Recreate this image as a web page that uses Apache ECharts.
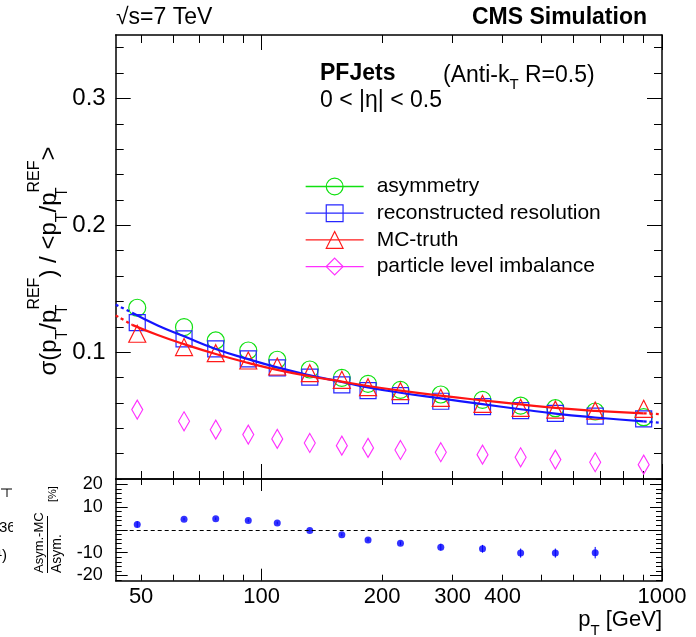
<!DOCTYPE html>
<html><head><meta charset="utf-8">
<script src="https://cdn.jsdelivr.net/npm/echarts@6/dist/echarts.min.js"></script>
<style>html,body{margin:0;padding:0;background:#fff}#c{width:696px;height:637px}</style>
</head><body><div id="c"></div>
<script>
// ---------------- data ----------------
const ptBins = [48.9, 64.0, 76.8, 92.6, 109.4, 131.9, 158.6, 184.4, 222.2, 280.2, 356.2, 443.5, 541.5, 681, 900];
const asymmetry = [0.135, 0.1197, 0.1092, 0.1013, 0.094, 0.0863, 0.0797, 0.075, 0.0703, 0.0666, 0.0624, 0.0579, 0.0558, 0.0532, 0.0487];
const recoResolution = [0.1232, 0.1105, 0.1026, 0.0947, 0.0876, 0.0803, 0.0742, 0.0697, 0.0658, 0.0613, 0.0571, 0.0539, 0.0518, 0.0495, 0.0474];
const mcTruth = [0.1145, 0.104, 0.0992, 0.0934, 0.0887, 0.0834, 0.0782, 0.0724, 0.0692, 0.064, 0.0592, 0.0561, 0.0547, 0.0539, 0.0553];
const particleImbalance = [0.0547, 0.0455, 0.0389, 0.035, 0.0316, 0.0284, 0.0263, 0.0245, 0.0229, 0.0211, 0.0192, 0.0171, 0.0153, 0.0132, 0.0113];

// fit curves; first/last segment drawn dotted
const fitPt = [43.2, 47.5, 55, 64, 76.8, 92.6, 109.4, 132, 158.6, 184.4, 222, 280, 356, 443.5, 541.5, 681, 900, 1000];
const recoFit = [0.1375, 0.1310, 0.1210, 0.1125, 0.1025, 0.0945, 0.0880, 0.0818, 0.0765, 0.0722, 0.0680, 0.0635, 0.0590, 0.0550, 0.0515, 0.0485, 0.0455, 0.0442];
const mcFit = [0.1290, 0.1215, 0.1135, 0.1063, 0.0985, 0.0915, 0.0860, 0.0810, 0.0768, 0.0733, 0.0697, 0.0657, 0.0620, 0.0588, 0.0560, 0.0537, 0.0518, 0.0510];

// lower panel: (Asym.-MC)/Asym. [%]
const ratioPt = [48.9, 64.0, 76.8, 92.6, 109.4, 131.9, 158.6, 184.4, 222.2, 280.2, 356.2, 443.5, 541.5, 681];
const ratioPercent = [2.4, 4.7, 4.85, 4.1, 3.0, -0.3, -2.1, -4.4, -5.9, -7.6, -8.3, -10.2, -10.2, -10.0];
const ratioError = [1.4, 0.6, 0.6, 0.6, 0.6, 0.5, 0.6, 0.7, 0.8, 1.5, 1.7, 2.0, 2.0, 2.5];

// ticks / labels
const xMinorTicks = [50, 60, 70, 80, 90, 200, 300, 400, 500, 600, 700, 800, 900];
const xMajorTicks = [100, 1000];
const xTickLabels = [50, 100, 200, 300, 400, 1000];
const yTopMinorTicks = [0.02, 0.04, 0.06, 0.08, 0.12, 0.14, 0.16, 0.18, 0.22, 0.24, 0.26, 0.28, 0.32, 0.34];
const yTopMajorTicks = [0.1, 0.2, 0.3];
const yTopLabels = [0.1, 0.2, 0.3];
const yLowMinorTicks = [-22, -18, -16, -14, -12, -8, -6, -4, -2, 2, 4, 6, 8, 12, 14, 16, 18, 22];
const yLowMajorTicks = [-20, -10, 0, 10, 20];
const yLowLabels = [-20, -10, 10, 20];

const names = ['asymmetry', 'reconstructed resolution', 'MC-truth', 'particle level imbalance'];
const colors = ['#10e010', '#2626ff', '#ff1a1a', '#ff30ff'];

// ---------------- layout ----------------
const FONT = 'Liberation Sans';
const GL = 115.7, GR = 34, T0 = 35, H0 = 444, T1 = 479, H1 = 101.7;
const XMIN = 43.2, XMAX = 1000;

function xAx(grid, pos, ticks, len, labels, showLine) {
  return {
    type: 'log', logBase: 10, gridIndex: grid, position: pos, min: XMIN, max: XMAX,
    axisLine: { show: showLine, onZero: false, lineStyle: { color: '#000', width: 1.5 } },
    axisTick: { show: true, inside: true, length: len, customValues: ticks, lineStyle: { color: '#000', width: 1 } },
    axisLabel: labels ? { show: true, customValues: labels, color: '#000', fontFamily: FONT, fontSize: 22, margin: 5,
      formatter: v => String(Math.round(v)) } : { show: false },
    splitLine: { show: false }, minorTick: { show: false }
  };
}
function yAx(grid, pos, min, max, ticks, len, labels, showLine, fs, margin, fmt) {
  return {
    type: 'value', gridIndex: grid, position: pos, min: min, max: max,
    axisLine: { show: showLine, onZero: false, lineStyle: { color: '#000', width: 1.5 } },
    axisTick: { show: true, inside: true, length: len, customValues: ticks, lineStyle: { color: '#000', width: 1 } },
    axisLabel: labels ? { show: true, customValues: labels, color: '#000', fontFamily: FONT, fontSize: fs, margin: margin, formatter: fmt } : { show: false },
    splitLine: { show: false }
  };
}

const xAxes = [
  xAx(0, 'bottom', xMinorTicks, 8, null, true),
  xAx(0, 'bottom', xMajorTicks, 15, null, false),
  xAx(0, 'top', xMinorTicks, 8, null, true),
  xAx(0, 'top', xMajorTicks, 15, null, false),
  xAx(1, 'bottom', xMinorTicks, 6, null, true),
  xAx(1, 'bottom', xMajorTicks, 12, xTickLabels, false),
  xAx(1, 'top', xMinorTicks, 6, null, true),
  xAx(1, 'top', xMajorTicks, 12, null, false)
];
const fmtTop = v => Number(v).toFixed(1);
const fmtLow = v => String(Math.round(v));
const yAxes = [
  yAx(0, 'left', 0, 0.35, yTopMinorTicks, 8, null, true),
  yAx(0, 'left', 0, 0.35, yTopMajorTicks, 15, yTopLabels, false, 24, 10, fmtTop),
  yAx(0, 'right', 0, 0.35, yTopMinorTicks, 8, null, true),
  yAx(0, 'right', 0, 0.35, yTopMajorTicks, 15, null, false),
  yAx(1, 'left', -22.3, 22.3, yLowMinorTicks, 6, null, true),
  yAx(1, 'left', -22.3, 22.3, yLowMajorTicks, 12, yLowLabels, false, 18, 13, fmtLow),
  yAx(1, 'right', -22.3, 22.3, yLowMinorTicks, 6, null, true),
  yAx(1, 'right', -22.3, 22.3, yLowMajorTicks, 12, null, false)
];

const pairs = (xs, ys) => xs.map((x, i) => [x, ys[i]]);
const symbols = ['circle', 'rect', 'triangle', 'diamond'];
const sizes = [17, 16, 17, [11, 19]];
const valueSets = [asymmetry, recoResolution, mcTruth, particleImbalance];

const series = [];
valueSets.forEach((vals, k) => {
  series.push({
    name: names[k], type: 'line', xAxisIndex: 0, yAxisIndex: 0,
    data: pairs(ptBins, vals), symbol: symbols[k], symbolSize: sizes[k],
    showSymbol: true, showAllSymbol: true,
    lineStyle: { width: 0 },
    itemStyle: { color: 'rgba(0,0,0,0)', borderColor: colors[k], borderWidth: 1.2 },
    emphasis: { disabled: true }, z: 2
  });
});
function fitSeries(vals, color, from, to, dotted) {
  return {
    type: 'line', xAxisIndex: 0, yAxisIndex: 0, smooth: true, symbol: 'none',
    data: pairs(fitPt.slice(from, to), vals.slice(from, to)),
    lineStyle: { color: color, width: 2.2, type: dotted ? [3, 3] : 'solid' },
    emphasis: { disabled: true }, z: 3
  };
}
const nFit = fitPt.length;
series.push(fitSeries(recoFit, '#1414ff', 1, nFit - 1, false));
series.push(fitSeries(recoFit, '#1414ff', 0, 2, true));
series.push(fitSeries(recoFit, '#1414ff', nFit - 2, nFit, true));
series.push(fitSeries(mcFit, '#ff1414', 1, nFit - 1, false));
series.push(fitSeries(mcFit, '#ff1414', 0, 2, true));
series.push(fitSeries(mcFit, '#ff1414', nFit - 2, nFit, true));

// lower panel
series.push({
  type: 'custom', xAxisIndex: 4, yAxisIndex: 4,
  data: ratioPt.map((x, i) => [x, ratioPercent[i], ratioError[i]]),
  renderItem: function (params, api) {
    const x = api.value(0), y = api.value(1), e = api.value(2);
    const a = api.coord([x, y - e]), b = api.coord([x, y + e]);
    return { type: 'line', shape: { x1: a[0], y1: a[1], x2: b[0], y2: b[1] }, style: { stroke: '#0000ff', lineWidth: 1 } };
  }, z: 2
});
series.push({
  type: 'scatter', xAxisIndex: 4, yAxisIndex: 4,
  data: pairs(ratioPt, ratioPercent), symbol: 'circle', symbolSize: 7,
  itemStyle: { color: '#0000ff' }, emphasis: { disabled: true }, z: 3,
  markLine: {
    silent: true, symbol: ['none', 'none'], label: { show: false },
    lineStyle: { color: '#000', width: 1, type: [4, 3] },
    data: [{ yAxis: 0 }], animation: false
  }
});

// ---------------- texts ----------------
const sub = (fs, lh) => ({ fontSize: fs, lineHeight: lh, verticalAlign: 'bottom', fontFamily: FONT, fill: '#000' });
const HF = 23;
const graphics = [
  { type: 'text', left: 116, top: 6, style: { text: '√s=7 TeV', fontFamily: FONT, fontSize: HF, fill: '#000' } },
  { type: 'text', right: 49, top: 6, style: { text: 'CMS Simulation', fontFamily: FONT, fontSize: HF, fontWeight: 'bold', fill: '#000' } },
  { type: 'text', left: 320, top: 62, style: { text: 'PFJets', fontFamily: FONT, fontSize: HF, fontWeight: 'bold', fill: '#000' } },
  { type: 'text', left: 443, top: 64, style: {
      text: '{m|(Anti-k}{s|T}{m| R=0.5)}',
      rich: { m: { fontSize: HF, lineHeight: 34, fontFamily: FONT, fill: '#000' }, s: sub(15, 22) } } },
  { type: 'text', left: 320, top: 89, style: { text: '0 < |η| < 0.5', fontFamily: FONT, fontSize: HF, fill: '#000' } },
  { type: 'text', x: 49, y: 261, rotation: Math.PI / 2, style: {
      text: '{m|σ(p}{s|T}{m|/p}{z|T}{u|REF}{m|) / <p}{s|T}{m|/p}{z|T}{u|REF}{m|>}',
      align: 'center', verticalAlign: 'middle',
      rich: {
        m: { fontSize: 24, lineHeight: 44, fontFamily: FONT, fill: '#000' },
        s: { fontSize: 16, lineHeight: 28, verticalAlign: 'bottom', fontFamily: FONT, fill: '#000' },
        z: { fontSize: 16, lineHeight: 28, verticalAlign: 'bottom', width: 0, fontFamily: FONT, fill: '#000' },
        u: { fontSize: 16, lineHeight: 24, verticalAlign: 'top', fontFamily: FONT, fill: '#000' }
      } } },
  { type: 'text', right: 34, top: 609, style: {
      text: '{m|p}{s|T}{m| [GeV]}',
      rich: { m: { fontSize: 22, lineHeight: 36, fontFamily: FONT, fill: '#000' }, s: sub(15, 24) } } },
  // lower y title (fraction)
  { type: 'text', x: 39, y: 573, rotation: Math.PI / 2, style: { text: 'Asym.-MC', fontFamily: FONT, fontSize: 13, fill: '#000', align: 'left', verticalAlign: 'middle' } },
  { type: 'text', x: 57, y: 573, rotation: Math.PI / 2, style: { text: 'Asym.', fontFamily: FONT, fontSize: 14, fill: '#000', align: 'left', verticalAlign: 'middle' } },
  { type: 'line', shape: { x1: 47.5, y1: 573, x2: 47.5, y2: 516 }, style: { stroke: '#000', lineWidth: 1 } },
  { type: 'text', x: 53, y: 502, rotation: Math.PI / 2, style: { text: '[%]', fontFamily: FONT, fontSize: 11, fill: '#000', align: 'left', verticalAlign: 'middle' } },
  // fragments of the neighbouring plot at the left edge
  { type: 'line', shape: { x1: 1, y1: 489, x2: 12, y2: 489 }, style: { stroke: '#000', lineWidth: 1 } },
  { type: 'line', shape: { x1: 7, y1: 489, x2: 7, y2: 497 }, style: { stroke: '#000', lineWidth: 1 } },
  { type: 'text', left: -1, top: 520, style: { text: '36', fontFamily: FONT, fontSize: 15, fill: '#000' } },
  { type: 'rect', shape: { x: 13, y: 515, width: 8, height: 25 }, style: { fill: '#fff' } },
  { type: 'text', left: -3, top: 548, style: { text: '¹)', fontFamily: FONT, fontSize: 15, fill: '#000' } }
];

const chart = echarts.init(document.getElementById('c'), null, { renderer: 'canvas' });
chart.setOption({
  animation: false,
  backgroundColor: '#fff',
  grid: [
    { left: GL, right: GR, top: T0, height: H0, containLabel: false },
    { left: GL, right: GR, top: T1, height: H1, containLabel: false }
  ],
  xAxis: xAxes,
  yAxis: yAxes,
  legend: {
    left: 300, top: 171, orient: 'vertical', itemWidth: 58, itemHeight: 21, itemGap: 5.7,
    selectedMode: false,
    textStyle: { fontFamily: FONT, fontSize: 21, lineHeight: 21, color: '#000', padding: [0, 0, 0, 8] },
    data: names.map((n, k) => ({
      name: n,
      itemStyle: { color: 'rgba(0,0,0,0)', borderColor: colors[k], borderWidth: 1.2 },
      lineStyle: { color: colors[k], width: 1.3, type: 'solid' }
    }))
  },
  graphic: graphics,
  series: series
});
</script></body></html>
